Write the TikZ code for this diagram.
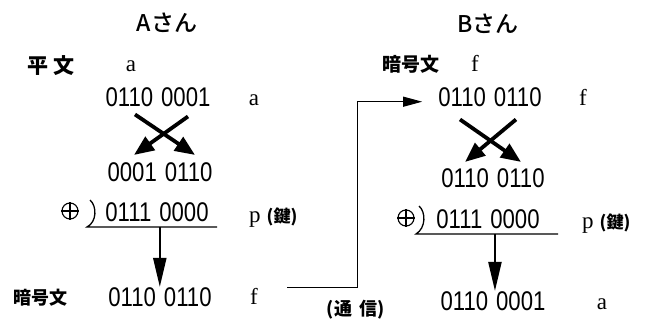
\documentclass[tikz,border=0pt]{standalone}
\usepackage{fontspec}
\usetikzlibrary{arrows.meta,calc}
\setmainfont{Liberation Serif}
\newfontfamily\bitfont[FakeStretch=0.82]{Liberation Sans}
\newfontfamily\jpfont{Noto Sans CJK JP Medium}
\newfontfamily\jpbold{Noto Sans CJK JP Black}
% two 4-bit groups of one byte
\newcommand\bytebits[2]{#1\hspace{8pt}#2}
% variable letter followed by the bold (鍵) tag
\newcommand\keytag{p\hspace{6pt}{\jpbold\fontsize{17}{17}\selectfont (鍵)}}

\tikzset{
  bits/.style={anchor=base, inner sep=0pt, font=\bitfont\fontsize{27}{27}\selectfont},
  var/.style={anchor=base, inner sep=0pt, font=\fontsize{23}{23}\selectfont},
  jplabel/.style={anchor=base, inner sep=0pt, font=\jpbold\fontsize{18}{18}\selectfont},
  person/.style={anchor=base, inner sep=0pt, font=\jpfont\fontsize{23}{23}\selectfont},
  swap/.style={line width=3.8pt, -{Triangle[length=20pt,width=16pt]}},
  sumrule/.style={line width=1.3pt},
  result/.style={line width=2.2pt, -{Triangle[length=29pt,width=13pt]}},
  link/.style={line width=1pt, -{Triangle[length=19pt,width=10pt]}},
  xorsign/.style={circle, draw, line width=1.1pt, minimum size=16pt, inner sep=0pt}
}

\begin{document}
\begin{tikzpicture}[x=1pt, y=-1pt]
\useasboundingbox (0,0) rectangle (650,320);

% ---- sender A: encryption ----
\node[person] (nameA) at (167,32) {Aさん};
\node[jplabel, font=\jpbold\fontsize{21}{21}\selectfont] (plainLbl) at (51,74) {平\hspace{5pt}文};
\node[var] (plainVar) at (131,72) {a};

\node[bits] (L1) at (158,107) {\bytebits{0110}{0001}};
\node[var] (L1v) at (254,106) {a};

\node[bits] (L2) at (160,182) {\bytebits{0001}{0110}};

\node[xorsign] (opL) at (70,211) {};
\node[bits] (L3) at (157,222) {\bytebits{0111}{0000}};
\node[var, anchor=base west] (L3v) at (249,223) {\keytag};

\node[jplabel] (cipherLblL) at (40,304) {暗号文};
\node[bits] (L4) at (160,306) {\bytebits{0110}{0110}};
\node[var] (fL) at (254,304) {f};

\draw[swap] ($(L1.south)+(-23,7)$) -- ($(L2.north)+(35,-8)$);
\draw[swap] ($(L1.south)+(30,9)$) -- ($(L2.north)+(-26,-8)$);

\draw[line width=1.1pt] (opL.north) -- (opL.south) (opL.west) -- (opL.east);
\draw[sumrule] (90,200) .. controls (97,206) and (97,222) .. (87,227)
  -- coordinate[pos=0.56] (ruleL) (217,227);
\draw[result] (ruleL) -- (ruleL |- L4.north);

% ---- receiver B: decryption ----
\node[person] (nameB) at (488,33) {Bさん};
\node[jplabel, font=\jpbold\fontsize{19}{19}\selectfont] (cipherLblR) at (411,72) {暗号文};
\node[var] (cipherVar) at (475,72) {f};

\node[bits] (R1) at (490,107) {\bytebits{0110}{0110}};
\node[var] (R1v) at (583,106) {f};

\node[bits] (R2) at (493,188) {\bytebits{0110}{0110}};

\node[xorsign] (opR) at (406,218) {};
\node[bits] (R3) at (488,229) {\bytebits{0111}{0000}};
\node[var, anchor=base west] (R3v) at (582,229) {\keytag};

\node[bits] (R4) at (493,310) {\bytebits{0110}{0001}};
\node[var] (R4v) at (602,309) {a};

\draw[swap] ($(R1.south)+(-30,12)$) -- ($(R2.north)+(28,-7)$);
\draw[swap] ($(R1.south)+(26,12)$) -- ($(R2.north)+(-28,-7)$);

\draw[line width=1.1pt] (opR.north) -- (opR.south) (opR.west) -- (opR.east);
\draw[sumrule] (419,206) .. controls (426,212) and (426,228) .. (416,234)
  -- coordinate[pos=0.556] (ruleR) (558,234);
\draw[result] (ruleR) -- (ruleR |- R4.north);

% ---- transmission ----
\draw[link] ($(fL.east)+(29,-8)$) -- ++(70,0) |- ($(R1.west)+(-16,4)$);
\node[font=\jpbold\fontsize{18}{18}\selectfont, anchor=base, inner sep=0pt] (commLbl) at (356,315) {(通\hspace{8pt}信)};
\end{tikzpicture}
\end{document}
